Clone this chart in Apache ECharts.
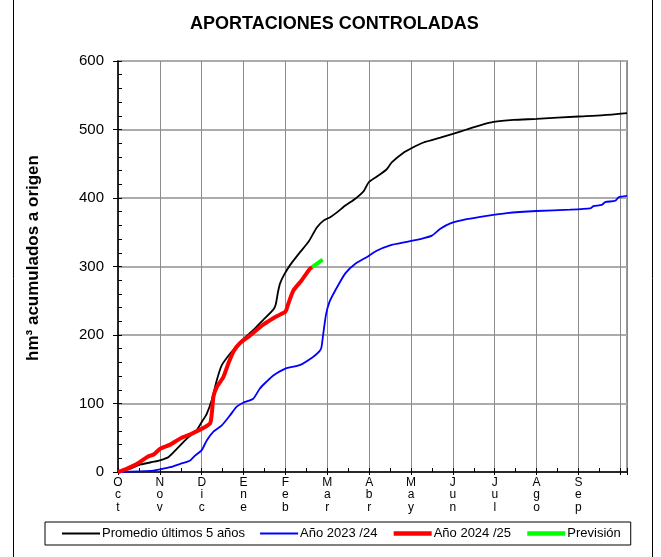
<!DOCTYPE html>
<html>
<head>
<meta charset="utf-8">
<script src="https://cdn.jsdelivr.net/npm/echarts@6/dist/echarts.min.js"></script>
<style>
  html, body { margin: 0; padding: 0; background: #fff; }
  #chart { width: 661px; height: 557px; }
</style>
</head>
<body>
<div id="chart"></div>
<script>
// meses (eje x en meses desde 1 de octubre)
var monthLabels = ["Oct", "Nov", "Dic", "Ene", "Feb", "Mar", "Abr", "May", "Jun", "Jul", "Ago", "Sep"];

// [mes, hm3 acumulados]
var promedioPts = [
  [0, 0], [0.3, 5], [0.54, 11], [0.86, 15], [1.0, 17], [1.21, 22], [1.41, 34], [1.65, 49],
  [1.88, 61], [2.0, 73], [2.12, 85], [2.24, 105], [2.36, 134], [2.48, 156], [2.68, 173],
  [2.83, 183], [2.99, 194], [3.23, 207], [3.47, 222], [3.71, 237], [3.77, 245], [3.82, 262],
  [3.87, 275], [3.96, 287], [4.11, 302], [4.35, 321], [4.55, 336], [4.75, 357], [4.91, 367],
  [5.07, 372], [5.23, 379], [5.43, 389], [5.67, 399], [5.87, 410], [5.99, 423], [6.18, 431],
  [6.42, 442], [6.54, 452], [6.82, 466], [7.02, 473], [7.30, 481], [7.70, 488], [8.02, 494],
  [8.33, 500], [8.65, 506], [8.97, 511], [9.45, 514], [10.0, 515.5], [11.0, 519], [11.6, 521],
  [12.16, 524]
];

var ano2324Pts = [
  [0, 0], [0.78, 1.5], [1.01, 4], [1.25, 7], [1.49, 12], [1.66, 15], [1.73, 17], [1.84, 24],
  [2.0, 32], [2.12, 46], [2.28, 59], [2.48, 68], [2.68, 83], [2.83, 95], [2.99, 101],
  [3.23, 107], [3.39, 122], [3.55, 132], [3.71, 141], [4.0, 151], [4.34, 156], [4.66, 168],
  [4.81, 176], [4.86, 182], [4.9, 200], [4.97, 230], [5.05, 248], [5.19, 265], [5.43, 290],
  [5.67, 304], [5.95, 314], [6.18, 323], [6.50, 331], [6.90, 336], [7.22, 340], [7.50, 345],
  [7.70, 355], [7.94, 363], [8.33, 369], [8.81, 374], [9.29, 378], [10.0, 381], [10.8, 383],
  [11.28, 385], [11.36, 388], [11.56, 390], [11.64, 394], [11.88, 396], [11.96, 401], [12.16, 403]
];

var ano2425Pts = [
  [0, 0], [0.22, 5], [0.46, 12], [0.70, 22], [0.86, 26], [1.01, 34], [1.25, 40], [1.49, 49],
  [1.73, 55], [2.0, 63], [2.2, 71], [2.24, 85], [2.28, 110], [2.36, 124], [2.52, 139],
  [2.64, 159], [2.76, 176], [2.91, 188], [3.15, 199], [3.47, 215], [3.78, 227], [4.0, 234],
  [4.07, 246], [4.19, 265], [4.39, 280], [4.59, 297], [4.64, 299]
];

var prevPts = [[4.64, 299], [4.89, 310]];

var yTicks = [0, 100, 200, 300, 400, 500, 600];

var chart = echarts.init(document.getElementById('chart'));
var font = 'Arial, "Liberation Sans", sans-serif';

var option = {
  animation: false,
  backgroundColor: '#fff',
  textStyle: { fontFamily: font, color: '#000' },
  title: {
    text: 'APORTACIONES CONTROLADAS',
    left: 185, top: 10,
    textStyle: { fontSize: 18, fontWeight: 'bold', color: '#000', fontFamily: font }
  },
  legend: {
    left: 45, top: 522,
    padding: [5, 10, 5, 16],
    itemGap: 14, itemWidth: 38, itemHeight: 13,
    borderColor: '#000', borderWidth: 1,
    itemStyle: { opacity: 0 },
    textStyle: { fontSize: 13, color: '#000', fontFamily: font, padding: [0, 0, 0, -3] },
    data: [
      { name: 'Promedio últimos 5 años', lineStyle: { width: 2 } },
      { name: 'Año 2023 /24', lineStyle: { width: 2 } },
      { name: 'Año 2024 /25', lineStyle: { width: 4.5 } },
      { name: 'Previsión', lineStyle: { width: 4.5 } }
    ]
  },
  grid: {
    left: 118, right: 34, top: 61, bottom: 85,
    show: true, borderColor: '#999', borderWidth: 2, backgroundColor: '#fff'
  },
  xAxis: [{
    type: 'value', min: 0, max: 12.16, interval: 1,
    axisLine: { show: true, lineStyle: { color: '#000', width: 1.5 } },
    axisTick: { show: true, length: 3, lineStyle: { color: '#000' } },
    axisLabel: {
      margin: 4, fontSize: 12, lineHeight: 12.5, color: '#000', fontFamily: font,
      formatter: function (v) {
        var i = Math.round(v);
        if (Math.abs(v - i) > 1e-6 || i > 11) return '';
        return monthLabels[i].split('').join('\n');
      }
    },
    splitLine: { show: true, lineStyle: { color: '#8c8c8c', width: 1 } }
  }, {
    type: 'value', min: 0, max: 12.16, interval: 0.5, position: 'bottom',
    axisLine: { show: false },
    axisTick: { show: true, inside: true, length: 4, lineStyle: { color: '#000' } },
    axisLabel: { show: false },
    splitLine: { show: false }
  }],
  yAxis: [{
    type: 'value', min: 0, max: 600, interval: 100,
    axisLine: { show: true, lineStyle: { color: '#000', width: 1.5 } },
    axisTick: { show: true, length: 5, lineStyle: { color: '#000' } },
    axisLabel: { margin: 14, fontSize: 15, color: '#000', fontFamily: font,
      formatter: function (v) { return yTicks.indexOf(v) >= 0 ? String(v) : ''; } },
    splitLine: { show: true, lineStyle: { color: '#ababab', width: 2 } }
  }, {
    type: 'value', min: 0, max: 600, interval: 20, position: 'left',
    axisLine: { show: false },
    axisTick: { show: true, inside: true, length: 4, lineStyle: { color: '#000' } },
    axisLabel: { show: false },
    splitLine: { show: false }
  }],
  graphic: [
    { type: 'line', shape: { x1: 13.5, y1: 0, x2: 13.5, y2: 557 }, style: { stroke: '#000', lineWidth: 1 } },
    { type: 'line', shape: { x1: 652.5, y1: 0, x2: 652.5, y2: 557 }, style: { stroke: '#000', lineWidth: 1 } },
    {
      type: 'text', x: 33, y: 258, rotation: Math.PI / 2,
      style: {
        text: 'hm³ acumulados a origen', textAlign: 'center', textVerticalAlign: 'middle',
        font: 'bold 17px ' + font, fill: '#000'
      }
    }
  ],
  series: [
    {
      name: 'Promedio últimos 5 años', type: 'line', data: promedioPts, showSymbol: false, symbol: 'none',
      smooth: 0.2, lineStyle: { color: '#000', width: 1.8 }, itemStyle: { color: '#000' }, z: 3
    },
    {
      name: 'Año 2023 /24', type: 'line', data: ano2324Pts, showSymbol: false, symbol: 'none',
      smooth: 0.2, lineStyle: { color: '#0000ff', width: 1.8 }, itemStyle: { color: '#0000ff' }, z: 3
    },
    {
      name: 'Año 2024 /25', type: 'line', data: ano2425Pts, showSymbol: false, symbol: 'none',
      smooth: 0.2, lineStyle: { color: '#ff0000', width: 4 }, itemStyle: { color: '#ff0000' }, z: 4
    },
    {
      name: 'Previsión', type: 'line', data: prevPts, showSymbol: false, symbol: 'none',
      lineStyle: { color: '#00ff00', width: 4 }, itemStyle: { color: '#00ff00' }, z: 4
    }
  ]
};

chart.setOption(option);
</script>
</body>
</html>
